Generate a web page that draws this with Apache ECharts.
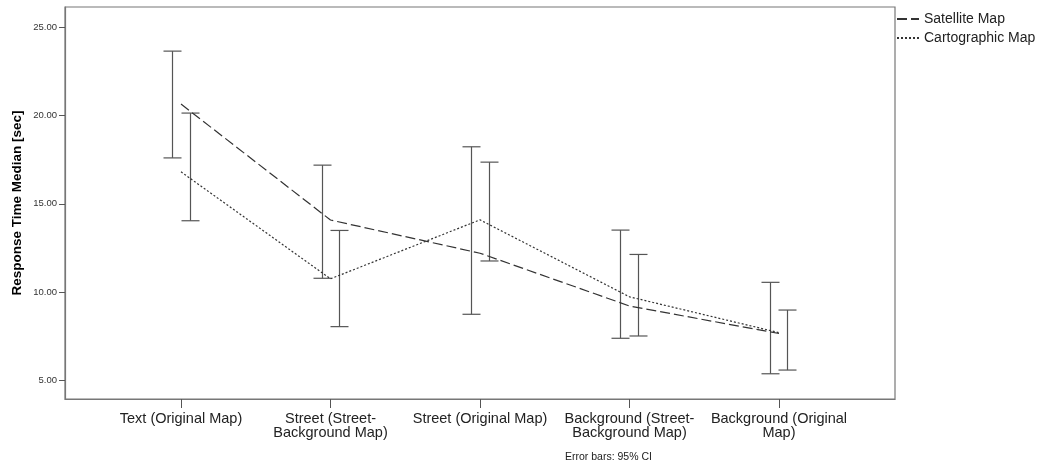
<!DOCTYPE html>
<html>
<head>
<meta charset="utf-8">
<script src="https://cdn.jsdelivr.net/npm/echarts@6/dist/echarts.min.js"></script>
<style>
html,body{margin:0;padding:0;background:#fff;}
#chart{width:1039px;height:468px;}
</style>
</head>
<body>
<div id="chart"></div>
<script>
var categories = ['Text (Original Map)', 'Street (Street-\nBackground Map)', 'Street (Original Map)', 'Background (Street-\nBackground Map)', 'Background (Original\nMap)'];
var yTicks = [5, 10, 15, 20, 25];
var satellite = [20.65, 14.08, 12.2, 9.21, 7.65];
var satLow = [17.6, 10.78, 8.74, 7.38, 5.37];
var satHigh = [23.65, 17.19, 18.23, 13.51, 10.55];
var carto = [16.81, 10.75, 14.09, 9.73, 7.7];
var cartoLow = [14.04, 8.04, 11.76, 7.51, 5.58];
var cartoHigh = [20.14, 13.49, 17.36, 12.13, 8.98];

var FONT = "'Liberation Sans', Arial, sans-serif";

function pts(arr) { return arr.map(function (v, i) { return [i, v]; }); }
function bars(lo, hi) { return lo.map(function (v, i) { return [i, v, hi[i]]; }); }

function errRender(dx) {
  return function (params, api) {
    var x = api.value(0);
    var top = api.coord([x, api.value(2)]);
    var bot = api.coord([x, api.value(1)]);
    var cx = Math.round(top[0] + dx) + 0.5;
    var hw = 9;
    var st = { stroke: '#555', lineWidth: 1.2 };
    return {
      type: 'group',
      children: [
        { type: 'line', shape: { x1: cx, y1: top[1], x2: cx, y2: bot[1] }, style: st },
        { type: 'line', shape: { x1: cx - hw, y1: top[1], x2: cx + hw, y2: top[1] }, style: st },
        { type: 'line', shape: { x1: cx - hw, y1: bot[1], x2: cx + hw, y2: bot[1] }, style: st }
      ]
    };
  };
}

var chart = echarts.init(document.getElementById('chart'), null, { renderer: 'canvas' });
chart.setOption({
  animation: false,
  backgroundColor: '#fff',
  textStyle: { fontFamily: FONT },
  grid: { left: 65, right: 144, top: 7, bottom: 69, show: true, borderColor: '#777', borderWidth: 1.2, containLabel: false },
  legend: {
    orient: 'vertical', left: 896, top: 12, padding: 0, itemWidth: 22, itemHeight: 14, itemGap: 5,
    itemStyle: { opacity: 0 },
    textStyle: { fontSize: 14, color: '#222', fontFamily: FONT },
    data: ['Satellite Map', 'Cartographic Map']
  },
  xAxis: {
    type: 'value', min: -0.776, max: 4.776,
    splitLine: { show: false },
    axisLine: { onZero: false, lineStyle: { color: '#777', width: 1.2 } },
    axisTick: { customValues: [0, 1, 2, 3, 4], length: 9, lineStyle: { color: '#555' } },
    axisLabel: {
      customValues: [0, 1, 2, 3, 4], margin: 13,
      formatter: function (v) { return categories[Math.round(v)]; },
      fontSize: 14.5, color: '#222', lineHeight: 14, fontFamily: FONT
    }
  },
  yAxis: {
    type: 'value', min: 3.94, max: 26.15,
    name: 'Response Time Median [sec]', nameLocation: 'middle', nameGap: 41, nameMoveOverlap: false,
    nameTextStyle: { fontSize: 13.5, fontWeight: 'bold', color: '#000', fontFamily: FONT },
    splitLine: { show: false },
    axisLine: { show: true, onZero: false, lineStyle: { color: '#777', width: 1.2 } },
    axisTick: { customValues: yTicks, length: 6, lineStyle: { color: '#555' } },
    axisLabel: {
      customValues: yTicks, margin: 8,
      formatter: function (v) { return v.toFixed(2); },
      fontSize: 9.5, color: '#333', fontFamily: FONT
    }
  },
  series: [
    {
      name: 'Satellite Map', type: 'line', data: pts(satellite), symbol: 'none',
      lineStyle: { color: '#333', width: 1.2, type: [10, 4] }, itemStyle: { color: '#333' }, z: 3
    },
    {
      name: 'Cartographic Map', type: 'line', data: pts(carto), symbol: 'none',
      lineStyle: { color: '#333', width: 1.2, type: [2, 2] }, itemStyle: { color: '#333' }, z: 3
    },
    { name: 'satCI', type: 'custom', data: bars(satLow, satHigh), renderItem: errRender(-9), z: 2 },
    { name: 'cartoCI', type: 'custom', data: bars(cartoLow, cartoHigh), renderItem: errRender(8.5), z: 2 }
  ],
  graphic: [
    { type: 'text', left: 565, top: 452, style: { text: 'Error bars: 95% CI', fontSize: 10.5, fill: '#222', fontFamily: FONT } }
  ]
});
</script>
</body>
</html>
